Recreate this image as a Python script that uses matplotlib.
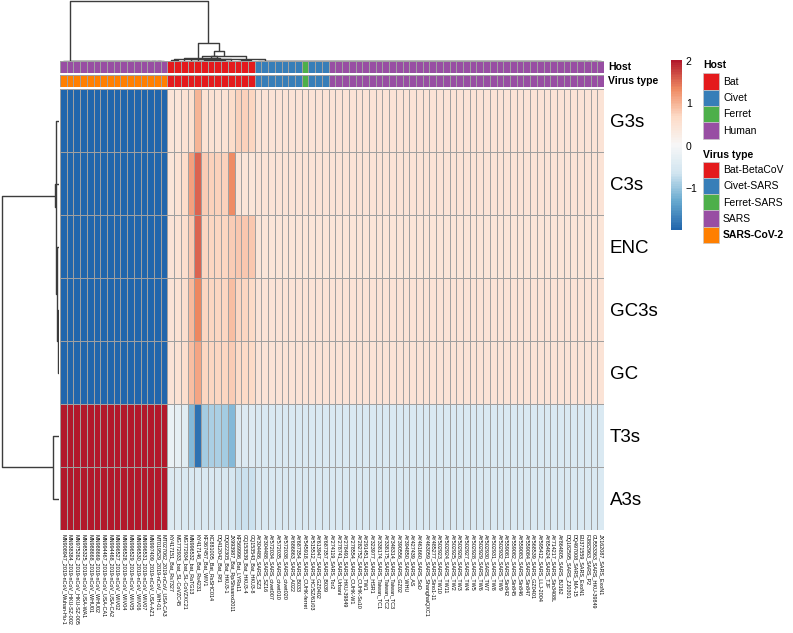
import numpy as np
import matplotlib
matplotlib.use("Agg")
import matplotlib.pyplot as plt
from matplotlib.colors import LinearSegmentedColormap, ListedColormap
from matplotlib.patches import Rectangle

plt.rcParams['font.family'] = ['Liberation Sans', 'DejaVu Sans']

# ---- data (row-scaled values, columns in display order) ----
features = ["G3s", "C3s", "ENC", "GC3s", "GC", "T3s", "A3s"]

cov2_labels = ["MN908947_2019-nCoV_Wuhan-Hu-1", "MN938384_2019-nCoV_HKU-SZ-002",
               "MN975262_2019-nCoV_HKU-SZ-005", "MN985325_2019-nCoV_USA-WA1",
               "MN988668_2019-nCoV_WHU01", "MN988669_2019-nCoV_WHU02",
               "MN994467_2019-nCoV_USA-CA1", "MN994468_2019-nCoV_USA-CA2",
               "MN996527_2019-nCoV_WIV02", "MN996528_2019-nCoV_WIV04",
               "MN996529_2019-nCoV_WIV05", "MN996530_2019-nCoV_WIV06",
               "MN996531_2019-nCoV_WIV07", "MN997409_2019-nCoV_USA-AZ1",
               "MT019529_2019-nCoV_WH-01", "MT027062_2019-nCoV_USA-CA3"]
bat_labels = ["KY417151_Bat_Rs7327", "MG772933_bat_SL-CoVZC45", "MG772934_bat_SL-CoVZXC21",
              "MN996532_bat_RaTG13", "KY417146_Bat_Rs4231", "KF367457_Bat_WIV1",
              "KC881005_Bat_RsSHC014", "DQ412042_Bat_Rf1", "DQ022305_Bat_HKU3-1",
              "JX993987_Bat_Rp/Shaanxi2011", "KF569996_Bat_LYRa11",
              "GQ153539_Bat_HKU3-4", "GQ153543_Bat_HKU3-8"]
civet_labels = ["AY304486_SARS_SZ3", "AY304488_SARS_SZ16", "AY572034_SARS_civet007",
                "AY572035_SARS_civet010", "AY572038_SARS_civet020", "AY686863_SARS_A022",
                "AY687354_SARS_B033"]
ferret_labels = ["AY545918_SARS_CUHK-ferret"]
civet2_labels = ["AY515512_SARS_HC/SZ/61/03", "AY613947_SARS_GZ0402", "AY687357_SARS_B039"]
human_labels = ["AY274119_SARS_Tor2", "AY278741_SARS_Urbani", "AY278491_SARS_HKU-39849",
                "AY278554_SARS_CUHK-W1", "AY282752_SARS_CUHK-Su10", "AY291451_SARS_TW1",
                "AY323977_SARS_HSR1", "AY338174_SARS_Taiwan_TC1", "AY338175_SARS_Taiwan_TC2",
                "AY348314_SARS_Taiwan_TC3", "AY390556_SARS_GZ02", "AY394850_SARS_WHU",
                "AY427439_SARS_AS", "AY461660_SARS_SoD", "AY463059_SARS_ShanghaiQXC1",
                "AY485277_SARS_Sino1-11", "AY502923_SARS_TW10", "AY502924_SARS_TW11",
                "AY502925_SARS_TW2", "AY502926_SARS_TW3", "AY502927_SARS_TW4",
                "AY502928_SARS_TW5", "AY502929_SARS_TW6", "AY502930_SARS_TW7",
                "AY502931_SARS_TW8", "AY502932_SARS_TW9", "AY559081_SARS_Sin842",
                "AY559082_SARS_Sin845", "AY559083_SARS_Sin846", "AY559084_SARS_Sin847",
                "AY568539_SARS_GZ0401", "AY595412_SARS_LLJ-2004", "AY654624_SARS_TJF",
                "AY714217_SARS_Sin3408L", "AY864805_SARS_BJ162", "DQ182595_SARS_ZJ0301",
                "DQ497008_SARS_MA-15", "EU371559_SARS_ExoN1", "FJ882963_SARS_P2",
                "GU553363_SARS_HKU-39849", "JX162087_SARS_ExoN1"]
col_labels = cov2_labels + bat_labels + civet_labels + ferret_labels + civet2_labels + human_labels

host = (["Human"] * 16 + ["Bat"] * 13 + ["Civet"] * 7 + ["Ferret"] + ["Civet"] * 3
        + ["Human"] * 41)
virus = (["SARS-CoV-2"] * 16 + ["Bat-BetaCoV"] * 13 + ["Civet-SARS"] * 7 + ["Ferret-SARS"]
         + ["Civet-SARS"] * 3 + ["SARS"] * 41)

host_levels = ["Bat", "Civet", "Ferret", "Human"]
host_colors = ["#E41A1C", "#377EB8", "#4DAF4A", "#984EA3"]
virus_levels = ["Bat-BetaCoV", "Civet-SARS", "Ferret-SARS", "SARS", "SARS-CoV-2"]
virus_colors = ["#E41A1C", "#377EB8", "#4DAF4A", "#984EA3", "#FF7F00"]

G3s = [-1.97] * 16 + [0.42, 0.45, 0.50, 0.55, 1.00, 0.50, 0.50, 0.50, 0.52, 0.62, 0.75, 0.75, 0.72] + [0.47] * 52
C3s = [-1.98] * 16 + [0.45, 0.50, 0.62, 1.15, 1.55, 0.78, 0.76, 0.76, 0.75, 1.30, 0.45, 0.45, 0.45] + [0.46] * 52
ENC = [-1.97] * 16 + [0.48, 0.50, 0.60, 0.85, 1.55, 0.72, 0.72, 0.70, 0.72, 0.78, 0.85, 0.85, 0.82] + [0.45] * 52
GC3s = [-1.98] * 16 + [0.48, 0.50, 0.60, 0.95, 1.35, 0.72, 0.72, 0.70, 0.72, 0.90, 0.70, 0.70, 0.68] + [0.47] * 52
GC = [-1.98] * 16 + [0.48, 0.50, 0.60, 0.90, 1.12, 0.72, 0.72, 0.70, 0.72, 0.80, 0.68, 0.68, 0.66] + [0.47] * 52
T3s = [2.02] * 16 + [-0.22, -0.28, -0.35, -1.12, -1.82, -0.92, -0.90, -0.90, -0.92, -1.10, -0.45, -0.45, -0.45] + [-0.50] * 52
A3s = [2.00] * 16 + [-0.45, -0.45, -0.48, -0.50, -0.50, -0.50, -0.50, -0.52, -0.52, -0.55, -0.68, -0.68, -0.66] + [-0.49] * 52

M = np.array([G3s, C3s, ENC, GC3s, GC, T3s, A3s])
n_rows, n_cols = M.shape

W, H = 793, 633
fig = plt.figure(figsize=(W / 100, H / 100), dpi=100)


def px_axes(x0, y0, x1, y1):
    return fig.add_axes([x0 / W, 1 - y1 / H, (x1 - x0) / W, (y1 - y0) / H])


def complete_linkage(X):
    n = len(X)
    D = np.full((2 * n - 1, 2 * n - 1), np.inf)
    D[:n, :n] = np.sqrt(((X[:, None, :] - X[None, :, :]) ** 2).sum(-1))
    np.fill_diagonal(D, np.inf)
    alive = np.zeros(2 * n - 1, bool)
    alive[:n] = True
    links = []
    for k in range(n - 1):
        sub = np.where(np.outer(alive, alive), D, np.inf)
        flat = np.flatnonzero(sub == sub.min())[-1]
        i, j = np.unravel_index(flat, sub.shape)
        new = n + k
        D[new, :] = np.maximum(D[i, :], D[j, :])
        D[:, new] = D[new, :]
        D[new, new] = np.inf
        alive[[i, j]] = False
        alive[new] = True
        links.append((i, j, sub[i, j]))
    return links


def draw_dendro(ax, links, n, horizontal=False):
    pos = list(np.arange(n) + 0.5)
    hgt = [0.0] * n
    for i, j, h in links:
        a = [pos[i], pos[i], pos[j], pos[j]]
        b = [hgt[i], h, h, hgt[j]]
        if horizontal:
            ax.plot(b, a, color="#3c3c3c", lw=1.0, solid_capstyle="butt")
        else:
            ax.plot(a, b, color="#3c3c3c", lw=1.0, solid_capstyle="butt")
        pos.append((pos[i] + pos[j]) / 2)
        hgt.append(h)
    return max(hgt)


# ---- heatmap ----
cmap = LinearSegmentedColormap.from_list(
    "rdbu", ["#2166AC", "#67A9CF", "#D1E5F0", "#F7F7F7", "#FDDBC7", "#EF8A62", "#B2182B"], N=100)
grid = "#a0a0a0"

ax = px_axes(60, 89.3, 604, 530)
mesh = ax.pcolormesh(np.arange(n_cols + 1), np.arange(n_rows + 1), M, cmap=cmap,
                     vmin=M.min(), vmax=M.max(), edgecolors=grid, linewidth=0.6)
ax.set_xlim(0, n_cols)
ax.set_ylim(n_rows, 0)
for s in ax.spines.values():
    s.set_visible(False)
ax.yaxis.tick_right()
ax.set_yticks(np.arange(n_rows) + 0.5)
ax.set_yticklabels(features, fontsize=13.5)
ax.set_xticks(np.arange(n_cols) + 0.5)
ax.set_xticklabels(col_labels, rotation=270, fontsize=3.9)
ax.tick_params(length=0)
ax.tick_params(axis="x", pad=3)
ax.tick_params(axis="y", pad=4)

# ---- annotation bars ----
for (y0, y1, vals, levels, colors, name) in [
        (60.7, 73.3, host, host_levels, host_colors, "Host"),
        (75.3, 87.3, virus, virus_levels, virus_colors, "Virus type")]:
    aax = px_axes(60, y0, 604, y1)
    idx = np.array([[levels.index(v) for v in vals]])
    aax.pcolormesh(np.arange(n_cols + 1), [0, 1], idx, cmap=ListedColormap(colors),
                   vmin=-0.5, vmax=len(levels) - 0.5, edgecolors=grid, linewidth=0.6)
    aax.set_xlim(0, n_cols)
    aax.set_ylim(1, 0)
    aax.axis("off")
    fig.text(608 / W, 1 - (y0 + y1) / 2 / H, name, fontsize=7.5, fontweight="bold",
             va="center", ha="left")

# ---- dendrograms ----
cax_d = px_axes(60, 0, 604, 60.5)
mh = draw_dendro(cax_d, complete_linkage(M.T), n_cols)
cax_d.set_xlim(0, n_cols)
cax_d.set_ylim(0, mh * 1.015)
cax_d.axis("off")

rax = px_axes(0, 89.3, 58.5, 530)
rh = draw_dendro(rax, complete_linkage(M), n_rows, horizontal=True)
rax.set_ylim(n_rows, 0)
rax.set_xlim(rh * 1.035, 0)
rax.axis("off")

# ---- colour bar ----
cbx = px_axes(670.7, 60, 681.7, 230)
cb = fig.colorbar(mesh, cax=cbx, ticks=[-1, 0, 1, 2])
cb.outline.set_visible(False)
cbx.tick_params(length=0, labelsize=7.5, pad=3)
cb.ax.set_yticklabels(["\u22121", "0", "1", "2"])

# ---- categorical legends ----
lax = px_axes(0, 0, W, H)
lax.set_xlim(0, W)
lax.set_ylim(H, 0)
lax.axis("off")
lax.patch.set_alpha(0)


def legend_block(title, levels, colors, y_title, y_box, bold_last=False):
    lax.text(703, y_title, title, fontsize=7.5, fontweight="bold", va="center", ha="left")
    for k, (lev, col) in enumerate(zip(levels, colors)):
        y = y_box + k * 16.3
        lax.add_patch(Rectangle((703, y), 16.3, 16.3, facecolor=col, edgecolor="#c8c8c8", lw=0.5))
        weight = "bold" if (bold_last and k == len(levels) - 1) else "normal"
        lax.text(723, y + 8.4, lev, fontsize=7.5, va="center", ha="left", fontweight=weight)


legend_block("Host", host_levels, host_colors, 64.5, 73.3)
legend_block("Virus type", virus_levels, virus_colors, 154.5, 161.5, bold_last=True)

fig.savefig("out.png", dpi=100)
